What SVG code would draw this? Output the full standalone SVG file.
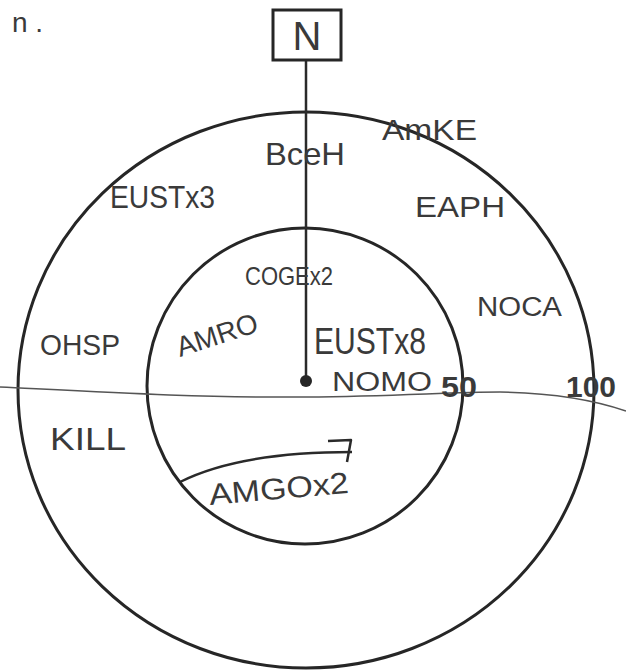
<svg xmlns="http://www.w3.org/2000/svg" width="626" height="670" viewBox="0 0 626 670">
<style>
.ring{fill:none;stroke:#262626;stroke-width:3}
.hand{font-family:"Liberation Sans","DejaVu Sans",sans-serif;fill:#3a3a3a;font-weight:normal}
.num{font-family:"Liberation Sans","DejaVu Sans",sans-serif;fill:#3a3a3a;font-weight:bold}
.line{fill:none;stroke:#2a2a2a;stroke-width:2.5}
</style>
<rect width="626" height="670" fill="#ffffff"/>
<g id="corner"><text class="hand" x="12" y="32" font-size="28">n .</text></g>
<g id="rings">
<ellipse class="ring" cx="306" cy="390" rx="288" ry="278"/>
<circle class="ring" cx="305" cy="386" r="158"/>
</g>
<g id="horizon"><path d="M0,387 C100,392 200,398 306,397 C400,396 450,392 500,392 C560,393 600,402 626,411" fill="none" stroke="#555" stroke-width="1.5"/></g>
<g id="connectors">
<line class="line" x1="306" y1="60" x2="306" y2="381"/>
<path class="line" d="M180,482 C220,462 280,452 352,452" stroke-width="2"/>
<path class="line" d="M328,441 L351,440 L347,462" stroke-width="2" stroke-linejoin="round"/>
</g>
<g id="north">
<rect x="273" y="10" width="68" height="50" fill="#fff" stroke="#262626" stroke-width="3"/>
<text class="hand" x="307" y="50" font-size="40" text-anchor="middle">N</text>
</g>
<g id="center"><circle cx="306" cy="381" r="6" fill="#262626"/></g>
<g id="BceH"><text class="hand" x="265" y="165" font-size="32" textLength="80" lengthAdjust="spacingAndGlyphs">BceH</text></g>
<g id="AmKE"><text class="hand" x="382" y="140" font-size="30" textLength="95" lengthAdjust="spacingAndGlyphs">AmKE</text></g>
<g id="EUSTx3"><text class="hand" x="110" y="208" font-size="32" textLength="105" lengthAdjust="spacingAndGlyphs">EUSTx3</text></g>
<g id="EAPH"><text class="hand" x="415" y="217" font-size="30" textLength="90" lengthAdjust="spacingAndGlyphs">EAPH</text></g>
<g id="COGEx2"><text class="hand" x="245" y="285" font-size="25" textLength="88" lengthAdjust="spacingAndGlyphs">COGEx2</text></g>
<g id="NOCA"><text class="hand" x="477" y="316" font-size="27" textLength="85" lengthAdjust="spacingAndGlyphs">NOCA</text></g>
<g id="OHSP"><text class="hand" x="40" y="355" font-size="30" textLength="80" lengthAdjust="spacingAndGlyphs">OHSP</text></g>
<g id="AMRO"><text class="hand" x="180" y="357" font-size="28" textLength="84" lengthAdjust="spacingAndGlyphs" transform="rotate(-18 180 357)">AMRO</text></g>
<g id="EUSTx8"><text class="hand" x="314" y="354" font-size="36" textLength="112" lengthAdjust="spacingAndGlyphs">EUSTx8</text></g>
<g id="NOMO"><text class="hand" x="332" y="391" font-size="27" textLength="100" lengthAdjust="spacingAndGlyphs">NOMO</text></g>
<g id="label50"><text class="num" x="441" y="397" font-size="30" textLength="36" lengthAdjust="spacingAndGlyphs">50</text></g>
<g id="label100"><text class="num" x="566" y="397" font-size="30" textLength="50" lengthAdjust="spacingAndGlyphs">100</text></g>
<g id="KILL"><text class="hand" x="50" y="450" font-size="32" textLength="76" lengthAdjust="spacingAndGlyphs">KILL</text></g>
<g id="AMGOx2"><text class="hand" x="210" y="505" font-size="30" textLength="140" lengthAdjust="spacingAndGlyphs" transform="rotate(-5 210 505)">AMGOx2</text></g>
</svg>
